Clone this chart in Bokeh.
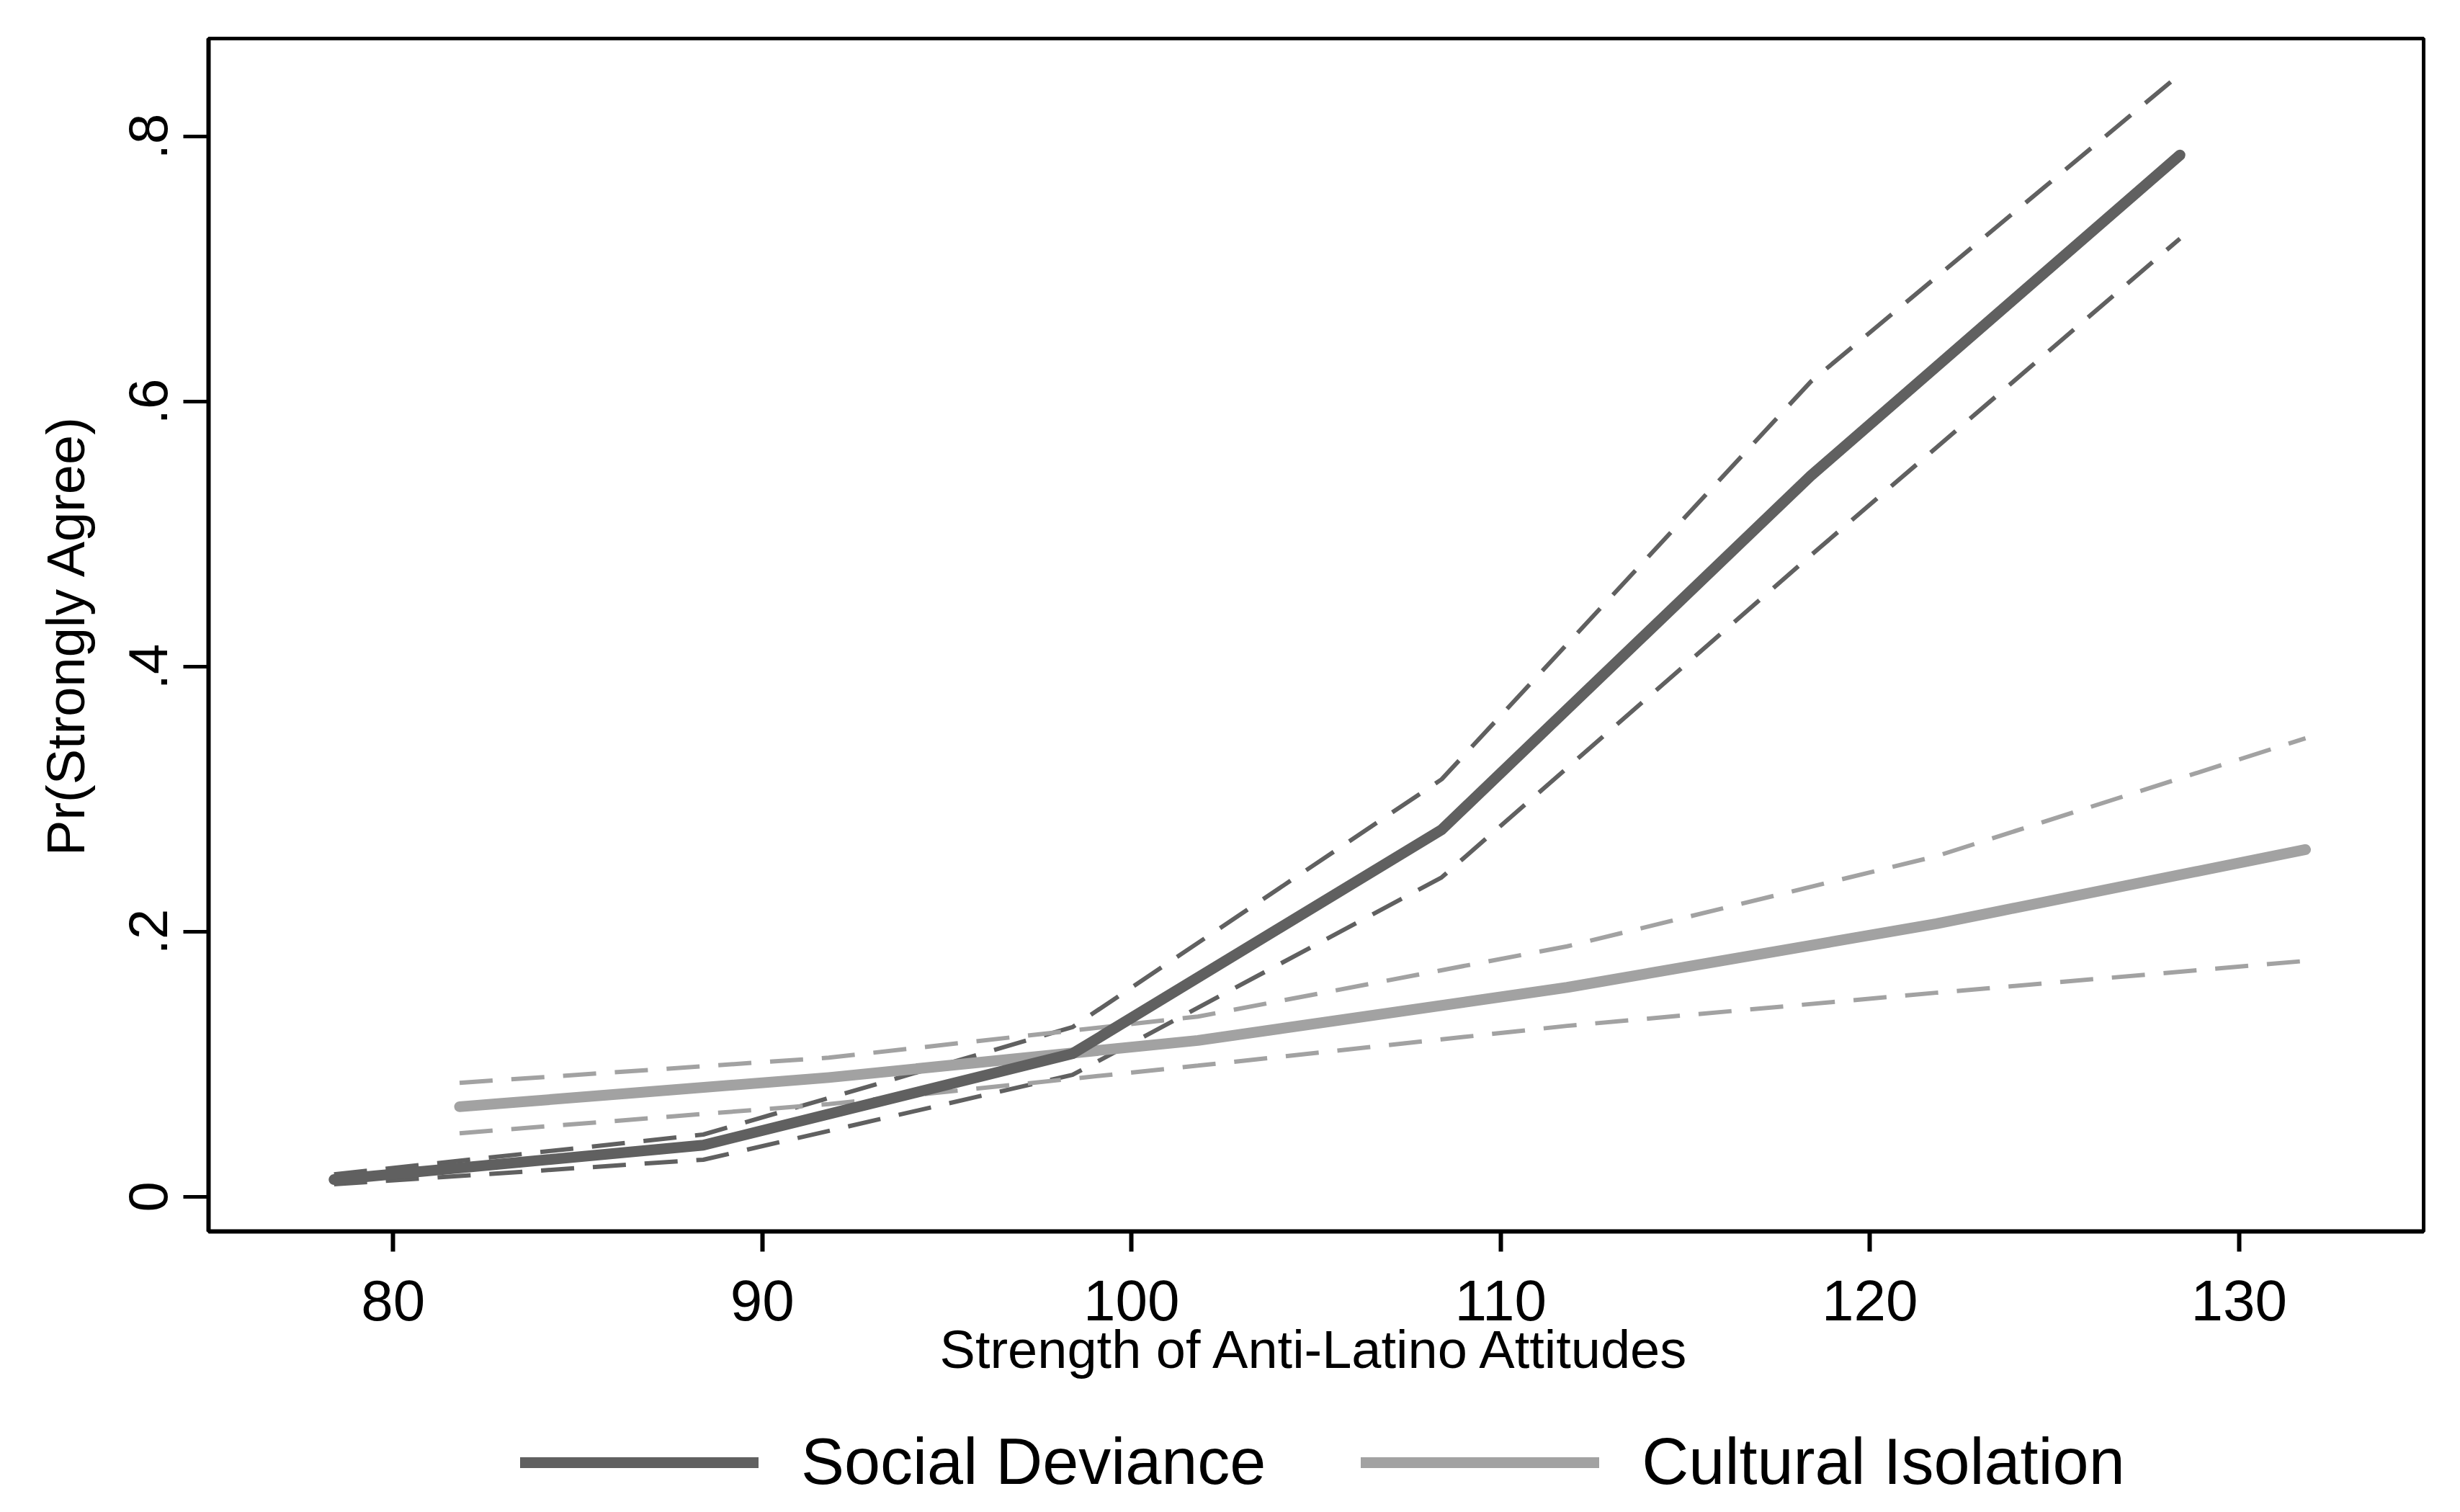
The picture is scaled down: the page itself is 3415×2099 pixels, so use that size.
import math
from bokeh.plotting import figure
from bokeh.layouts import column
from bokeh.models import (Range1d, FixedTicker, CustomJSTickFormatter, Legend,
                          LegendItem, ColumnDataSource)
from bokeh.embed import file_html
from bokeh.resources import INLINE

# ---- data ----
dev_x = [78.4, 88.4, 98.4, 108.4, 118.4, 128.4]
dev_y = [0.013, 0.039, 0.108, 0.277, 0.544, 0.786]
dev_hi = [0.017, 0.047, 0.128, 0.315, 0.615, 0.847]
dev_lo = [0.0095, 0.028, 0.092, 0.241, 0.484, 0.723]

iso_x = [81.8, 91.8, 101.8, 111.8, 121.8, 131.8]
iso_y = [0.068, 0.090, 0.118, 0.158, 0.206, 0.262]
iso_hi = [0.086, 0.105, 0.136, 0.189, 0.257, 0.346]
iso_lo = [0.048, 0.070, 0.099, 0.129, 0.154, 0.178]

x_ticks = [80, 90, 100, 110, 120, 130]
y_ticks = [0, 0.2, 0.4, 0.6, 0.8]
series_names = ["Social Deviance", "Cultural Isolation"]
x_title = "Strength of Anti-Latino Attitudes"
y_title = "Pr(Strongly Agree)"

DARK = "#606060"
LIGHT = "#a2a2a2"
FONT = "Liberation Sans"

W = 3399
H_MAIN = 1969
H_LEG = 2083 - H_MAIN

p = figure(width=W, height=H_MAIN, output_backend="svg", toolbar_location=None,
           x_range=Range1d(75.0, 135.0), y_range=Range1d(-0.0261, 0.8739),
           min_border_left=289, min_border_right=35, min_border_top=53,
           min_border_bottom=H_MAIN - 1709)
p.grid.visible = False
p.background_fill_color = "white"
p.border_fill_color = "white"
p.outline_line_color = "black"
p.outline_line_width = 5

dev_src = ColumnDataSource(dict(x=dev_x, y=dev_y, hi=dev_hi, lo=dev_lo))
iso_src = ColumnDataSource(dict(x=iso_x, y=iso_y, hi=iso_hi, lo=iso_lo))

dash = "46 26"
p.line("x", "hi", source=dev_src, line_color=DARK, line_width=6, line_dash=dash)
p.line("x", "lo", source=dev_src, line_color=DARK, line_width=6, line_dash=dash)
p.line("x", "hi", source=iso_src, line_color=LIGHT, line_width=6, line_dash=dash)
p.line("x", "lo", source=iso_src, line_color=LIGHT, line_width=6, line_dash=dash)
main_style = dict(line_width=15, line_cap="round", line_join="round")
p.line("x", "y", source=iso_src, line_color=LIGHT, **main_style)
p.line("x", "y", source=dev_src, line_color=DARK, **main_style)

# x axis
xa = p.xaxis[0]
xa.ticker = FixedTicker(ticks=x_ticks)
xa.minor_tick_line_color = None
xa.major_tick_in = 0
xa.major_tick_out = 28
xa.major_tick_line_width = 6
xa.axis_line_width = 6
xa.major_label_text_font = FONT
xa.major_label_text_font_size = "80px"
xa.major_label_text_color = "black"
xa.major_label_standoff = 40
xa.axis_label = x_title
xa.axis_label_text_font = FONT
xa.axis_label_text_font_size = "74px"
xa.axis_label_text_font_style = "normal"
xa.axis_label_text_color = "black"
xa.axis_label_standoff = -4

# y axis
ya = p.yaxis[0]
ya.ticker = FixedTicker(ticks=y_ticks)
ya.formatter = CustomJSTickFormatter(code="""
    if (Math.abs(tick) < 1e-9) { return "0"; }
    return tick.toFixed(1).replace(/^0/, "");
""")
ya.minor_tick_line_color = None
ya.major_tick_in = 0
ya.major_tick_out = 35
ya.major_tick_line_width = 5
ya.axis_line_width = 6
ya.major_label_orientation = "vertical"
ya.major_label_text_font = FONT
ya.major_label_text_font_size = "76px"
ya.major_label_text_color = "black"
ya.major_label_standoff = 22
ya.axis_label = y_title
ya.axis_label_text_font = FONT
ya.axis_label_text_font_size = "74px"
ya.axis_label_text_font_style = "normal"
ya.axis_label_text_color = "black"
ya.axis_label_standoff = 44

# legend strip below the chart: same sources, out of this strip's view
q = figure(width=W, height=H_LEG, output_backend="svg", toolbar_location=None,
           x_range=Range1d(0, 1), y_range=Range1d(0, 1),
           x_axis_location=None, y_axis_location=None,
           min_border=0, min_border_left=0, min_border_right=0,
           min_border_top=0, min_border_bottom=0)
q.grid.visible = False
q.outline_line_color = None
q.background_fill_color = "white"
q.border_fill_color = "white"
l_dev = q.line("x", "y", source=dev_src, line_color=DARK, **main_style)
l_iso = q.line("x", "y", source=iso_src, line_color=LIGHT, **main_style)

legend = Legend(items=[LegendItem(label=series_names[0], renderers=[l_dev]),
                       LegendItem(label=series_names[1], renderers=[l_iso])],
                orientation="horizontal", location=(433, 2),
                glyph_width=331, glyph_height=40, label_standoff=59,
                spacing=132, padding=0, margin=0,
                label_text_font=FONT, label_text_font_size="90px",
                label_text_color="black", border_line_color=None,
                background_fill_alpha=0)
q.add_layout(legend, "center")

layout = column(p, q, spacing=0)
open("out.html", "w").write(file_html(layout, INLINE))
